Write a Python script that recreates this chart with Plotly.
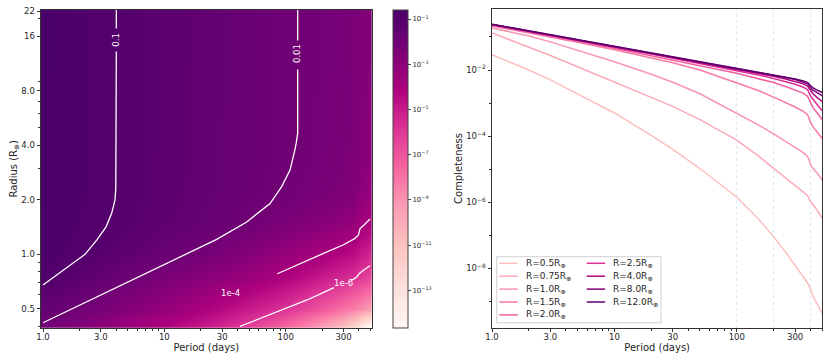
import numpy as np
import plotly.graph_objects as go

# ---------------- data ----------------
periods = [1, 2, 3, 5, 10, 20, 30, 50, 100, 150, 200, 250, 300, 350, 380, 400, 420, 450, 500]

radii = [0.5, 0.75, 1.0, 1.5, 2.0, 2.5, 4.0, 8.0, 12.0]
radius_labels = ["0.5", "0.75", "1.0", "1.5", "2.0", "2.5", "4.0", "8.0", "12.0"]

# log10(completeness) along each radius curve
log_c_r0p5 = [-1.54, -2.00, -2.30, -2.72, -3.30, -3.98, -4.40, -4.98, -5.85, -6.50, -7.04, -7.50, -7.90, -8.25, -8.45, -8.62, -8.85, -9.05, -9.36]
log_c_r0p75 = [-0.88, -1.30, -1.56, -1.90, -2.36, -2.82, -3.10, -3.50, -4.12, -4.60, -4.97, -5.25, -5.48, -5.68, -5.80, -5.98, -6.07, -6.22, -6.49]
log_c_r1p0 = [-0.73, -0.97, -1.15, -1.40, -1.75, -2.13, -2.37, -2.72, -3.30, -3.66, -3.93, -4.15, -4.33, -4.50, -4.62, -4.85, -4.98, -5.10, -5.33]
log_c_r1p5 = [-0.67, -0.88, -1.00, -1.16, -1.39, -1.63, -1.78, -2.00, -2.38, -2.62, -2.82, -2.98, -3.12, -3.25, -3.36, -3.58, -3.72, -3.86, -4.08]
log_c_r2p0 = [-0.64, -0.84, -0.97, -1.12, -1.34, -1.56, -1.69, -1.87, -2.10, -2.26, -2.38, -2.50, -2.60, -2.70, -2.80, -3.00, -3.14, -3.28, -3.51]
log_c_r2p5 = [-0.63, -0.83, -0.955, -1.10, -1.31, -1.52, -1.645, -1.81, -2.02, -2.15, -2.26, -2.35, -2.43, -2.52, -2.60, -2.78, -2.90, -3.03, -3.24]
log_c_r4p0 = [-0.625, -0.825, -0.945, -1.09, -1.295, -1.50, -1.62, -1.78, -1.98, -2.10, -2.19, -2.27, -2.34, -2.42, -2.49, -2.62, -2.72, -2.82, -2.96]
log_c_r8p0 = [-0.62, -0.82, -0.94, -1.085, -1.29, -1.495, -1.61, -1.77, -1.965, -2.08, -2.16, -2.23, -2.29, -2.36, -2.42, -2.53, -2.61, -2.68, -2.78]
log_c_r12p0 = [-0.615, -0.815, -0.935, -1.08, -1.285, -1.49, -1.605, -1.76, -1.96, -2.07, -2.15, -2.21, -2.27, -2.33, -2.38, -2.47, -2.54, -2.60, -2.68]

# extra rows used only by the completeness map (bottom / top edge of the map)
log_c_r0p4 = [-2.10, -2.65, -3.00, -3.50, -4.15, -4.90, -5.40, -6.15, -7.55, -8.55, -9.35, -10.10, -10.85, -11.65, -12.25, -12.85, -13.40, -13.90, -14.60]
log_c_r22p0 = [-0.615, -0.815, -0.935, -1.08, -1.285, -1.49, -1.605, -1.76, -1.96, -2.07, -2.15, -2.21, -2.27, -2.33, -2.38, -2.47, -2.54, -2.60, -2.68]
map_radii = [0.4, 0.5, 0.75, 1.0, 1.5, 2.0, 2.5, 4.0, 8.0, 12.0, 22.0]

# contour lines of the map (period, radius)
c0p1_up_p, c0p1_up_r = [4.02, 4.02], [24.0, 17.7]
c0p1_lo_p = [4.02, 4.02, 3.98, 3.92, 3.68, 3.31, 2.77, 2.22, 1.62, 1.0]
c0p1_lo_r = [13.2, 2.8, 2.3, 2.0, 1.685, 1.42, 1.2, 1.0, 0.855, 0.677]
c0p01_up_p, c0p01_up_r = [125.6, 125.6], [24.0, 15.2]
c0p01_lo_p = [125.6, 125.6, 122, 119, 108.6, 92.7, 74.3, 47.7, 27, 10.45, 4.05, 1.0]
c0p01_lo_r = [10.5, 4.66, 4.1, 3.77, 2.92, 2.37, 1.91, 1.51, 1.21, 0.892, 0.663, 0.419]
c1em4_p = [85.4, 140, 205, 300, 373, 398, 410, 440, 496]
c1em4_r = [0.782, 0.90, 1.013, 1.13, 1.225, 1.28, 1.39, 1.45, 1.57]
c1em6_a_p = [42, 60, 102, 150, 204, 250]
c1em6_a_r = [0.40, 0.44, 0.503, 0.56, 0.615, 0.655]
c1em6_b_p = [345, 362, 385, 405, 440, 496]
c1em6_b_r = [0.718, 0.728, 0.75, 0.785, 0.82, 0.866]

contour_labels = ["0.1", "0.01", "1e-4", "1e-6"]
contour_label_p = [4.02, 125.6, 35.4, 299]
contour_label_r = [15.4, 12.9, 0.609, 0.692]
contour_label_angle = [-90, -90, 0, 0]

reference_periods = [100, 200, 400]

x_ticks = [1, 3, 10, 30, 100, 300]
x_ticktext = ["1.0", "3.0", "10", "30", "100", "300"]
r_ticks = [0.5, 1, 2, 4, 8, 16, 22]
r_ticktext = ["0.5", "1.0", "2.0", "4.0", "8.0", "16", "22"]
cb_ticks = [-1, -3, -5, -7, -9, -11, -13]
c_ticks = [1e-8, 1e-6, 1e-4, 1e-2]
c_tick_exp = [-8, -6, -4, -2]

line_colors = ["#fcbfbe", "#fbaab8", "#f994b1", "#f87aa7", "#f3609f",
               "#de2f97", "#b20580", "#840178", "#5d006f"]

# ---------------- figure ----------------
FONT = "DejaVu Sans"
INK = "#262626"
fig = go.Figure()

curves = [log_c_r0p5, log_c_r0p75, log_c_r1p0, log_c_r1p5, log_c_r2p0,
          log_c_r2p5, log_c_r4p0, log_c_r8p0, log_c_r12p0]
z_map = [log_c_r0p4] + curves + [log_c_r22p0]

fig.add_trace(go.Heatmap(
    x=periods, y=map_radii, z=z_map, zsmooth="best",
    colorscale="RdPu", zmin=-14.67, zmax=-0.6,
    xaxis="x", yaxis="y", hoverinfo="skip",
    colorbar=dict(
        x=392.7 / 830, xanchor="left", xpad=0, thickness=15,
        len=318 / 363, lenmode="fraction", y=1 - 169 / 363, yanchor="middle", ypad=0,
        outlinewidth=1, outlinecolor="#444",
        tickmode="array", tickvals=cb_ticks,
        ticktext=["10<sup>\u2212%d</sup>" % (-t) for t in cb_ticks],
        ticks="outside", ticklen=3, tickcolor="#444",
        tickfont=dict(size=7, family=FONT, color=INK),
    ),
))

contour_segments = [(c0p1_up_p, c0p1_up_r), (c0p1_lo_p, c0p1_lo_r),
                    (c0p01_up_p, c0p01_up_r), (c0p01_lo_p, c0p01_lo_r),
                    (c1em4_p, c1em4_r), (c1em6_a_p, c1em6_a_r), (c1em6_b_p, c1em6_b_r)]
for px, ry in contour_segments:
    fig.add_trace(go.Scatter(x=px, y=ry, mode="lines", xaxis="x", yaxis="y",
                             line=dict(color="white", width=1.3), showlegend=False,
                             hoverinfo="skip"))

annotations = []
for txt, p, r, ang in zip(contour_labels, contour_label_p, contour_label_r, contour_label_angle):
    annotations.append(dict(x=np.log10(p), y=np.log10(r), xref="x", yref="y", text=txt,
                            showarrow=False, textangle=ang,
                            font=dict(size=8.5, family=FONT, color="white")))

# right panel
for pref in reference_periods:
    fig.add_trace(go.Scatter(x=[pref, pref], y=[1e-12, 10], mode="lines", xaxis="x2", yaxis="y2",
                             line=dict(color="#d3e5f3", width=1, dash="dot"),
                             showlegend=False, hoverinfo="skip"))

for lab, vals, col in zip(radius_labels, curves, line_colors):
    fig.add_trace(go.Scatter(x=periods, y=np.power(10.0, vals), mode="lines",
                             xaxis="x2", yaxis="y2", name="R=%sR\u2295" % lab,
                             line=dict(color=col, width=1.5), showlegend=False))

# legend (box drawn as decoration, entries column-major like the original)
shapes = [dict(type="rect", xref="paper", yref="paper",
               x0=496.7 / 830, x1=661 / 830, y0=1 - 322.7 / 363, y1=1 - 256.7 / 363,
               line=dict(color="#d0d0d0", width=1), fillcolor="rgba(255,255,255,0.85)", layer="above")]
col_x = [499.3, 586.7]
for i, (lab, col) in enumerate(zip(radius_labels, line_colors)):
    c = 0 if i < 5 else 1
    row = i if i < 5 else i - 5
    yy = 1 - (263.3 + 12.9 * row) / 363
    x0 = col_x[c]
    shapes.append(dict(type="line", xref="paper", yref="paper",
                       x0=x0 / 830, x1=(x0 + 18.4) / 830, y0=yy, y1=yy,
                       line=dict(color=col, width=1.5), layer="above"))
    annotations.append(dict(x=(x0 + 24.5) / 830, y=yy, xref="paper", yref="paper",
                            xanchor="left", yanchor="middle", showarrow=False,
                            text="R=%sR<sub>\u2295</sub>" % lab,
                            font=dict(size=9, family=FONT, color=INK)))

minor_p = [2, 4, 5, 6, 7, 8, 9, 20, 40, 50, 60, 70, 80, 90, 200, 400, 500]
minor_r = [0.4, 0.6, 0.7, 0.8, 0.9, 3, 5, 6, 7, 9, 20]

axis_common = dict(showline=True, linecolor="#333", linewidth=1, mirror=True,
                   ticks="outside", ticklen=3.5, tickwidth=0.8, tickcolor="#333",
                   showgrid=False, zeroline=False, automargin=False,
                   tickfont=dict(size=8.5, family=FONT, color=INK))

fig.update_layout(
    width=830, height=363, margin=dict(l=0, r=0, t=0, b=0),
    paper_bgcolor="white", plot_bgcolor="white",
    font=dict(family=FONT, color=INK),
    showlegend=False,
    xaxis=dict(domain=[41 / 830, 371.7 / 830], anchor="y", type="log",
               range=[-0.0165, 2.709], tickmode="array", tickvals=x_ticks, ticktext=x_ticktext,
               minor=dict(tickmode="array", tickvals=minor_p, ticks="outside", ticklen=2,
                          tickcolor="#333", tickwidth=0.6),
               ticklabelstandoff=-2,
               title=dict(text="Period (days)", font=dict(size=10, family=FONT), standoff=1),
               **axis_common),
    yaxis=dict(domain=[1 - 327.7 / 363, 1 - 10 / 363], anchor="x", type="log",
               range=[-0.405, 1.350], tickmode="array", tickvals=r_ticks, ticktext=r_ticktext,
               minor=dict(tickmode="array", tickvals=minor_r, ticks="outside", ticklen=2,
                          tickcolor="#333", tickwidth=0.6),
               title=dict(text="Radius (R<sub>\u2295</sub>)", font=dict(size=10, family=FONT), standoff=0),
               **axis_common),
    xaxis2=dict(domain=[492 / 830, 822.3 / 830], anchor="y2", type="log",
                range=[0, 2.699], tickmode="array", tickvals=x_ticks, ticktext=x_ticktext,
                minor=dict(tickmode="array", tickvals=minor_p, ticks="outside", ticklen=2,
                           tickcolor="#333", tickwidth=0.6),
                ticklabelstandoff=-2,
                title=dict(text="Period (days)", font=dict(size=10, family=FONT), standoff=1),
                **axis_common),
    yaxis2=dict(domain=[1 - 327.7 / 363, 1 - 9.3 / 363], anchor="x2", type="log",
                range=[-9.795, -0.164], tickmode="array", tickvals=c_ticks,
                ticktext=["10<sup>\u2212%d</sup>" % (-e) for e in c_tick_exp],
                minor=dict(tickmode="array", tickvals=[1e-9, 1e-7, 1e-5, 1e-3, 1e-1],
                           ticks="outside", ticklen=2, tickcolor="#333", tickwidth=0.6),
                title=dict(text="Completeness", font=dict(size=10, family=FONT), standoff=1),
                **axis_common),
    shapes=shapes,
    annotations=annotations,
)

fig.write_html("out.html", config={"displayModeBar": False},
               post_script="document.body.style.margin='0';document.body.style.padding='0';")
